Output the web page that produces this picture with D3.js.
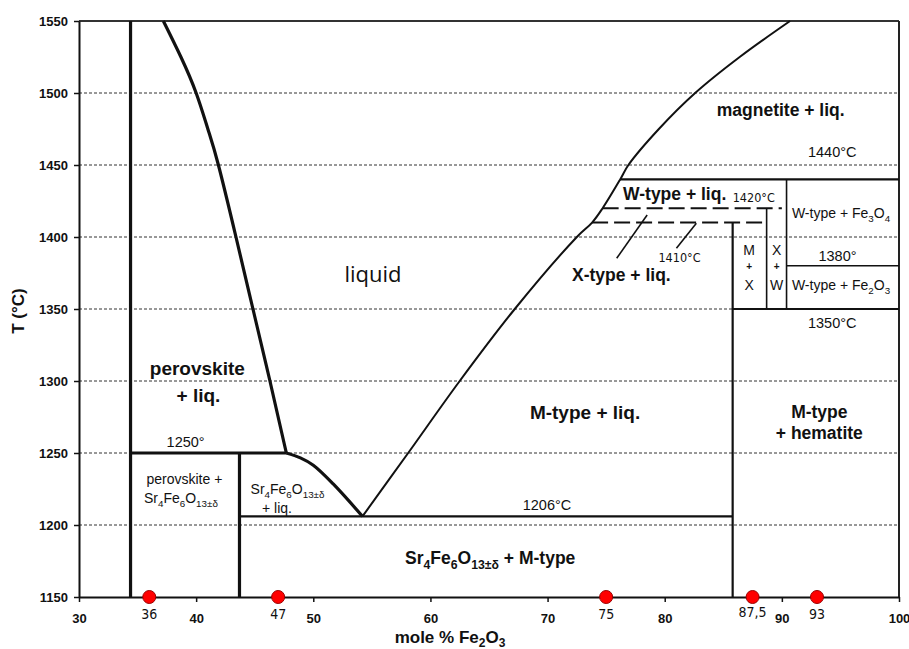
<!DOCTYPE html>
<html>
<head>
<meta charset="utf-8">
<script src="https://cdn.jsdelivr.net/npm/d3@7"></script>
<style>
  html, body { margin: 0; padding: 0; background: #fff; }
  svg { display: block; font-family: "Liberation Sans", Arial, sans-serif; }
</style>
</head>
<body>
<svg id="chart" width="909" height="649"></svg>
<script>
// Axis extents and ticks
const compDomain = [30, 100];
const tempDomain = [1150, 1550];
const compTicks = [30, 40, 50, 60, 70, 80, 90, 100];
const tempTicks = [1150, 1200, 1250, 1300, 1350, 1400, 1450, 1500, 1550];
const gridTemps = [1200, 1250, 1300, 1350, 1400, 1450, 1500];

// Studied compositions (mole % Fe2O3)
const sampleComps = [36, 47, 75, 87.5, 93];
const sampleLabels = ["36", "47", "75", "87,5", "93"];

// Liquidus curves: [mole % Fe2O3, T °C]
const perovskiteLiquidus = [[37.2, 1550], [38.7, 1525], [40.0, 1500], [41.0, 1475], [41.9, 1450], [43.4, 1400], [44.85, 1350], [46.3, 1300], [47.7, 1250]];
const sr4Liquidus = [[47.7, 1250], [48.9, 1246.6], [50.0, 1241.5], [51.7, 1228.5], [54.2, 1206]];
const ferriteLiquidus = [[54.2, 1206], [58.1, 1250], [62.5, 1300], [67.2, 1350], [72.5, 1400], [73.8, 1410], [74.7, 1420], [76.2, 1440], [76.9, 1450], [79.5, 1475], [82.6, 1500], [86.4, 1525], [90.7, 1550]];

// Phase boundaries as segments [[x1, T1], [x2, T2]]
const heavyBoundaries = [
  [[34.4, 1150], [34.4, 1550]],
  [[43.7, 1150], [43.7, 1250]],
  [[34.4, 1250], [47.7, 1250]]
];
const boundaries = [
  [[43.7, 1206], [85.8, 1206]],
  [[85.8, 1150], [85.8, 1410]],
  [[85.8, 1350], [100, 1350]],
  [[76.2, 1440], [100, 1440]]
];
const lightBoundaries = [
  [[88.7, 1350], [88.7, 1420]],
  [[90.4, 1350], [90.4, 1440]],
  [[90.4, 1380], [100, 1380]]
];
const dashedBoundaries = [
  [[73.8, 1410], [88.7, 1410]],
  [[74.7, 1420], [90.0, 1420]]
];
const leaderLines = [
  [[75.9, 1385.2], [78.5, 1415.3]],
  [[81.0, 1392.2], [82.7, 1409.5]]
];

// Field and isotherm labels: [x, T (baseline), text, style]
const fieldLabels = [
  [55.1, 1368.7, "liquid", "liquid"],
  [40.1, 1304.2, "perovskite", "fieldLg"],
  [40.2, 1285.6, "+ liq.", "fieldLg"],
  [39.1, 1254.4, "1250°", "iso"],
  [39.0, 1228.5, "perovskite +", "note"],
  [38.7, 1215.1, "Sr_4Fe_6O_{13±δ}", "note"],
  [47.8, 1221.5, "Sr_4Fe_6O_{13±δ}", "note"],
  [46.9, 1208.5, "+ liq.", "note"],
  [69.95, 1210.2, "1206°C", "iso"],
  [65.1, 1172.9, "Sr_4Fe_6O_{13±δ} + M-type", "field"],
  [73.2, 1273.4, "M-type + liq.", "fieldLg"],
  [93.2, 1274.1, "M-type", "field"],
  [93.2, 1259.5, "+ hematite", "field"],
  [94.3, 1336.6, "1350°C", "iso"],
  [95.05, 1363.2, "W-type + Fe_2O_3", "note"],
  [94.75, 1383.5, "1380°", "iso"],
  [95.05, 1413.0, "W-type + Fe_3O_4", "note"],
  [87.2, 1387.5, "M", "note"],
  [87.2, 1377.4, "+", "tiny"],
  [87.2, 1363.2, "X", "note"],
  [89.56, 1387.5, "X", "note"],
  [89.56, 1377.4, "+", "tiny"],
  [89.56, 1363.2, "W", "note"],
  [76.3, 1369.7, "X-type + liq.", "field"],
  [81.26, 1382.8, "1410°C", "narrow"],
  [87.6, 1424.5, "1420°C", "narrow"],
  [80.85, 1425.7, "W-type + liq.", "field"],
  [89.9, 1484.0, "magnetite + liq.", "field"],
  [94.3, 1455.8, "1440°C", "iso"]
];

const labelStyles = {
  liquid:  { family: "'Open Sans', 'Noto Sans', sans-serif", size: 22, weight: "normal" },
  fieldLg: { family: "'Liberation Sans', Arial, sans-serif", size: 19, weight: "bold" },
  field:   { family: "'Liberation Sans', Arial, sans-serif", size: 17.5, weight: "bold" },
  iso:     { family: "'Liberation Sans', Arial, sans-serif", size: 14.5, weight: "normal" },
  note:    { family: "'Liberation Sans', Arial, sans-serif", size: 14, weight: "normal" },
  tiny:    { family: "'Liberation Sans', Arial, sans-serif", size: 10, weight: "bold" },
  narrow:  { family: "'Liberation Sans Narrow', 'DejaVu Sans Condensed', 'Liberation Sans', sans-serif", size: 12.5, weight: "normal", stretch: "condensed" }
};

const svg = d3.select("#chart");
const x = d3.scaleLinear().domain(compDomain).range([79, 899]);
const y = d3.scaleLinear().domain(tempDomain).range([597, 21]);

// Dotted temperature grid
svg.append("g")
  .selectAll("line")
  .data(gridTemps)
  .join("line")
  .attr("x1", x(compDomain[0])).attr("x2", x(compDomain[1]))
  .attr("y1", d => y(d)).attr("y2", d => y(d))
  .attr("stroke", "#333").attr("stroke-width", 1)
  .attr("stroke-dasharray", "3,2");

// Top and right frame
svg.append("line")
  .attr("x1", x(compDomain[0])).attr("x2", x(compDomain[1]))
  .attr("y1", y(tempDomain[1])).attr("y2", y(tempDomain[1]))
  .attr("stroke", "#333").attr("stroke-width", 2);
svg.append("line")
  .attr("x1", x(compDomain[1])).attr("x2", x(compDomain[1]))
  .attr("y1", y(tempDomain[0])).attr("y2", y(tempDomain[1]))
  .attr("stroke", "#222").attr("stroke-width", 2);

// Axes
const yAxis = svg.append("g")
  .attr("transform", `translate(${x(compDomain[0])},0)`)
  .call(d3.axisLeft(y).tickValues(tempTicks).tickFormat(d3.format("d")).tickSize(5).tickSizeOuter(0).tickPadding(6));
const xAxis = svg.append("g")
  .attr("transform", `translate(0,${y(tempDomain[0])})`)
  .call(d3.axisBottom(x).tickValues(compTicks).tickFormat(d3.format("d")).tickSize(5).tickSizeOuter(0).tickPadding(12));
[yAxis, xAxis].forEach(a => {
  a.select(".domain").attr("stroke", "#111").attr("stroke-width", 2);
  a.selectAll(".tick line").attr("stroke", "#111").attr("stroke-width", 1.5);
  a.selectAll(".tick text")
    .attr("fill", "#111")
    .style("font-family", "'Liberation Sans', Arial, sans-serif")
    .style("font-size", "13px")
    .style("font-weight", "bold");
});

// Phase boundaries
const segLine = d3.line().x(d => x(d[0])).y(d => y(d[1]));
function drawSegments(data, width, dash) {
  svg.append("g")
    .selectAll("path")
    .data(data)
    .join("path")
    .attr("d", segLine)
    .attr("fill", "none")
    .attr("stroke", "#111")
    .attr("stroke-width", width)
    .attr("stroke-dasharray", dash || null);
}
drawSegments(boundaries, 2.2);
drawSegments(lightBoundaries, 1.6);
drawSegments(dashedBoundaries, 2, "16,6");
drawSegments(leaderLines, 1.6);
drawSegments(heavyBoundaries, 3.2);

// Liquidus curves
const naturalLine = d3.line().x(d => x(d[0])).y(d => y(d[1])).curve(d3.curveNatural);
const smoothLine = d3.line().x(d => x(d[0])).y(d => y(d[1])).curve(d3.curveCatmullRom.alpha(0.5));
svg.append("path").attr("d", naturalLine(perovskiteLiquidus))
  .attr("fill", "none").attr("stroke", "#111").attr("stroke-width", 3.2);
svg.append("path").attr("d", smoothLine(sr4Liquidus))
  .attr("fill", "none").attr("stroke", "#111").attr("stroke-width", 3.2);
svg.append("path").attr("d", smoothLine(ferriteLiquidus))
  .attr("fill", "none").attr("stroke", "#111").attr("stroke-width", 2);

// Rich text with subscripts written as _x or _{...}
function parseRich(str) {
  const parts = [];
  const re = /_\{([^}]*)\}|_(.)|([^_]+)/g;
  let m;
  while ((m = re.exec(str)) !== null) {
    if (m[1] !== undefined) parts.push({ t: m[1], sub: true });
    else if (m[2] !== undefined) parts.push({ t: m[2], sub: true });
    else parts.push({ t: m[3], sub: false });
  }
  return parts;
}

const labelG = svg.append("g");
fieldLabels.forEach(([cx, ct, text, kind]) => {
  const st = labelStyles[kind];
  const t = labelG.append("text")
    .attr("x", x(cx)).attr("y", y(ct))
    .attr("text-anchor", "middle")
    .attr("fill", "#111")
    .style("font-family", st.family)
    .style("font-size", st.size + "px")
    .style("font-weight", st.weight);
  if (st.stretch) t.style("font-stretch", st.stretch);
  let shifted = false;
  parseRich(text).forEach(p => {
    const ts = t.append("tspan").text(p.t);
    if (p.sub && !shifted) { ts.attr("dy", st.size * 0.28).style("font-size", (st.size * 0.7) + "px"); shifted = true; }
    else if (p.sub) { ts.style("font-size", (st.size * 0.7) + "px"); }
    else if (!p.sub && shifted) { ts.attr("dy", -st.size * 0.28); shifted = false; }
  });
});

// Studied compositions on the temperature axis
svg.append("g")
  .selectAll("circle")
  .data(sampleComps)
  .join("circle")
  .attr("cx", d => x(d)).attr("cy", y(tempDomain[0]))
  .attr("r", 6.5)
  .attr("fill", "#ff0000").attr("stroke", "#9a0000").attr("stroke-width", 1);
svg.append("g")
  .selectAll("text")
  .data(sampleComps)
  .join("text")
  .attr("x", d => x(d))
  .attr("y", (d, i) => y(tempDomain[0]) + (sampleLabels[i].includes(",") ? 20 : 22))
  .attr("text-anchor", "middle")
  .attr("fill", "#111")
  .style("font-family", "'Liberation Sans Narrow', 'DejaVu Sans Condensed', 'Liberation Sans', sans-serif")
  .style("font-stretch", "condensed")
  .style("font-size", "14px")
  .text((d, i) => sampleLabels[i]);

// Axis titles
const xt = svg.append("text")
  .attr("x", 450).attr("y", 643)
  .attr("text-anchor", "middle")
  .attr("fill", "#111")
  .style("font-size", "17px").style("font-weight", "bold");
parseRich("mole % Fe_2O_3").forEach((p, i, arr) => {
  const ts = xt.append("tspan").text(p.t);
  if (p.sub) ts.style("font-size", "12px");
  if (p.sub && (i === 0 || !arr[i - 1].sub)) ts.attr("dy", 4);
  if (!p.sub && i > 0 && arr[i - 1].sub) ts.attr("dy", -4);
});
svg.append("text")
  .attr("transform", "translate(24,311) rotate(-90)")
  .attr("text-anchor", "middle")
  .attr("fill", "#111")
  .style("font-size", "17px").style("font-weight", "bold")
  .text("T (°C)");
</script>
</body>
</html>
